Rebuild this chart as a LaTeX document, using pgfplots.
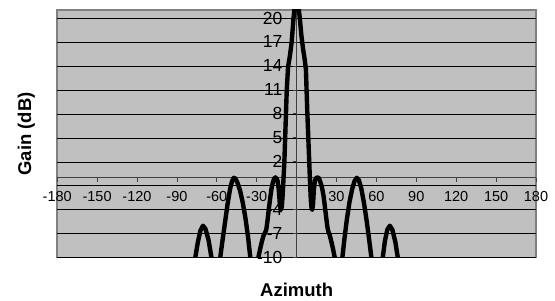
\documentclass[border=0pt]{standalone}
\usepackage{pgfplots}
\pgfplotsset{compat=1.18}
\usepackage{fontspec}
\setmainfont{Liberation Sans}
\definecolor{plotbg}{HTML}{C0C0C0}
\definecolor{plotborder}{HTML}{808080}
\definecolor{axisgray}{HTML}{404040}
\begin{document}
\begin{tikzpicture}
\begin{axis}[
  set layers,
  at={(57.2bp,42.3bp)}, anchor=south west,
  scale only axis, width=478.8bp, height=247.7bp,
  xmin=-180, xmax=180, ymin=-10, ymax=21,
  axis x line=middle, axis y line=middle,
  axis line style={draw=axisgray, line width=0.8bp, -},
  axis background/.style={fill=plotbg, draw=plotborder, line width=1.6bp},
  xtick={-180,-150,...,180},
  xticklabels={-180,-150,-120,-90,-60,-30,0,30,60,90,120,150,180},
  ytick={-10,-7,...,20},
  yticklabels={-10,-7,-4,,2,5,8,11,14,17,20},
  ymajorgrids, grid style={black, line width=0.6bp},
  tick align=outside, major tick length=4bp,
  tick style={draw=axisgray, line width=0.8bp},
  xticklabel style={font=\fontsize{14.5bp}{16bp}\selectfont, anchor=north, inner sep=0pt, yshift=-9bp},
  yticklabel style={font=\fontsize{17.5bp}{19bp}\selectfont, anchor=east, inner sep=0pt, xshift=-10bp},
]
\addplot[black, line width=4.4bp, line join=round, line cap=round] coordinates {
(-180,-20) (-120,-20) (-90,-18) (-82,-16) (-78.5,-13) (-76.5,-10.3) (-74.3,-8.1)
(-72.3,-6.6) (-70.4,-6.0) (-68.5,-6.4) (-66.2,-7.8) (-63.8,-10.2) (-62,-12.5)
(-60,-14) (-58.8,-12) (-57.6,-10.2) (-56,-8.2) (-54,-5.8) (-52,-3.4) (-50,-1.4)
(-48.5,-0.4) (-47.2,0) (-46,-0.1) (-44.5,-0.6) (-42.5,-1.6) (-40.5,-3.1)
(-38.5,-5) (-36.5,-7.4) (-34.8,-10) (-33.4,-12) (-32,-13.5) (-30.4,-12)
(-28.9,-10.1) (-27.4,-8.9) (-26.0,-7.9) (-24.8,-7.2) (-23.8,-6.9) (-22.8,-6.5)
(-21.9,-5.4) (-20.9,-3.9) (-19.9,-2.6) (-18.9,-1.4) (-17.9,-0.6) (-16.9,-0.1)
(-15.9,0.05) (-15.0,-0.1) (-14.3,-0.4) (-13.4,-1.5) (-12.6,-3.3) (-11.8,-4)
(-11.1,-3.6) (-10.5,-2.2) (-9.8,0) (-9.2,2) (-8.6,5) (-8.0,8) (-7.4,11)
(-6.4,13.9) (-5.0,15.3) (-3.7,17) (-2.3,20) (-1.2,21.7) (0,22.6)
(1.3,21.6) (2.4,20) (3.6,17.8) (4.8,16.2) (6.0,14.9) (7.0,13.6) (7.5,11)
(8.1,8) (8.8,5) (9.5,2) (10.1,-0.6) (10.7,-2.8) (11.3,-3.9) (11.8,-4)
(12.4,-3.2) (13.0,-1.4) (13.8,-0.3) (14.9,0) (16.2,0.05) (17.2,-0.2)
(18.2,-0.7) (19.2,-1.3) (20.2,-2.2) (21.2,-3.5) (22.2,-4.9) (23.2,-6.2)
(24,-6.8) (24.8,-7.1) (26,-7.9) (27.4,-8.9) (28.8,-10.1) (30.2,-12)
(31.6,-13.5) (33,-12) (34.4,-10) (36,-7.6) (37.8,-5.2) (39.8,-3) (41.8,-1.4)
(43.6,-0.4) (45.2,0) (46.8,-0.3) (48.6,-1.3) (50.6,-3.1) (52.6,-5.3)
(54.6,-7.8) (56.4,-10.2) (58,-12.5) (60.4,-14) (62.6,-12.5) (64.6,-10.2)
(66.4,-7.9) (68.2,-6.5) (70.1,-6) (72,-6.5) (74.2,-8) (76.4,-10.3)
(78.5,-13) (82,-16) (90,-18) (120,-20) (180,-20)
};
\end{axis}
\node[font=\bfseries\fontsize{18.5bp}{20bp}\selectfont, anchor=base]
  at (296.7bp,3.4bp) {Azimuth};
\node[font=\bfseries\fontsize{18.5bp}{20bp}\selectfont, anchor=base, rotate=90]
  at (31bp,166bp) {Gain (dB)};
\path[use as bounding box] (0,0) rectangle (555bp,300bp);
\end{tikzpicture}
\end{document}
